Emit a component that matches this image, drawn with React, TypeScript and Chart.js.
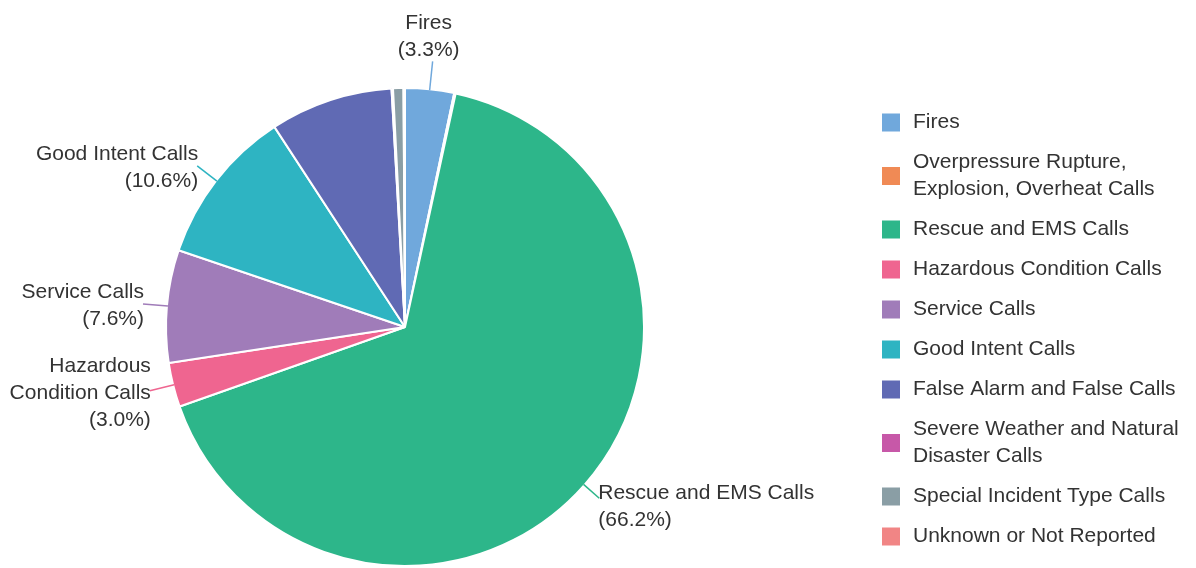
import React, { useEffect, useRef } from "react";
import { Chart, registerables } from "chart.js";

Chart.register(...registerables);

const categories = [
  "Fires",
  "Overpressure Rupture, Explosion, Overheat Calls",
  "Rescue and EMS Calls",
  "Hazardous Condition Calls",
  "Service Calls",
  "Good Intent Calls",
  "False Alarm and False Calls",
  "Severe Weather and Natural Disaster Calls",
  "Special Incident Type Calls",
  "Unknown or Not Reported",
];

const values = [3.3, 0.1, 66.2, 3.0, 7.6, 10.6, 8.3, 0.1, 0.7, 0.1];

const colors = [
  "#70A8DC",
  "#F08A55",
  "#2DB68A",
  "#EF6590",
  "#A07CB9",
  "#2EB4C2",
  "#606AB4",
  "#C758A8",
  "#8A9EA5",
  "#F18585",
];

// Legend text lines (wrapped as in the reference)
const legendLines = [
  ["Fires"],
  ["Overpressure Rupture,", "Explosion, Overheat Calls"],
  ["Rescue and EMS Calls"],
  ["Hazardous Condition Calls"],
  ["Service Calls"],
  ["Good Intent Calls"],
  ["False Alarm and False Calls"],
  ["Severe Weather and Natural", "Disaster Calls"],
  ["Special Incident Type Calls"],
  ["Unknown or Not Reported"],
];

// Outer slice labels (null = no label)
const sliceLabelLines: (string[] | null)[] = [
  ["Fires"],
  null,
  ["Rescue and EMS Calls"],
  ["Hazardous", "Condition Calls"],
  ["Service Calls"],
  ["Good Intent Calls"],
  null,
  null,
  null,
  null,
];

const FONT = '21px "Liberation Sans", Arial, sans-serif';
const TEXT_COLOR = "#333333";
const LINE_H = 27;

const outerLabels = {
  id: "outerLabels",
  afterDatasetsDraw(chart: any) {
    const ctx = chart.ctx;
    const meta = chart.getDatasetMeta(0);
    const total = values.reduce((a, b) => a + b, 0);
    ctx.save();
    ctx.font = FONT;
    ctx.textBaseline = "middle";
    meta.data.forEach((arc: any, i: number) => {
      const lines = sliceLabelLines[i];
      if (!lines) return;
      const { x, y, startAngle, endAngle, outerRadius } = arc.getProps(
        ["x", "y", "startAngle", "endAngle", "outerRadius"],
        true
      );
      const mid = (startAngle + endAngle) / 2;
      const c = Math.cos(mid);
      const s = Math.sin(mid);
      const isTop = Math.abs(c) < 0.3 && s < 0;
      const left = c > 0;
      const len = isTop ? 28 : left ? 20 : 24;
      const x1 = x + c * (outerRadius - 1);
      const y1 = y + s * (outerRadius - 1);
      const x2 = x + c * (outerRadius + len);
      const y2 = y + s * (outerRadius + len);
      ctx.strokeStyle = colors[i];
      ctx.lineWidth = 1.5;
      ctx.beginPath();
      ctx.moveTo(x1, y1);
      ctx.lineTo(x2, y2);
      ctx.stroke();

      const pct = "(" + ((values[i] / total) * 100).toFixed(1) + "%)";
      const all = [...lines, pct];
      ctx.fillStyle = TEXT_COLOR;
      if (isTop) {
        ctx.textAlign = "center";
        const bottom = y2 - 11;
        all.forEach((t, k) => {
          ctx.fillText(t, x2 - 4, bottom - (all.length - 1 - k) * LINE_H);
        });
      } else {
        ctx.textAlign = left ? "left" : "right";
        const tx = left ? x2 - 1 : x2 + 1;
        const top = y2 + (left ? 8 : 2) - ((all.length - 1) * LINE_H) / 2;
        all.forEach((t, k) => {
          ctx.fillText(t, tx, top + k * LINE_H);
        });
      }
    });
    ctx.restore();
  },
};

const legendPlugin = {
  id: "sideLegend",
  afterDraw(chart: any) {
    const ctx = chart.ctx;
    ctx.save();
    ctx.font = FONT;
    ctx.textBaseline = "middle";
    ctx.textAlign = "left";
    const boxX = 882;
    const textX = 913;
    const box = 18;
    let yTop = 102.5;
    legendLines.forEach((lines, i) => {
      const h = 40 + (lines.length - 1) * LINE_H;
      const cy = yTop + h / 2;
      ctx.fillStyle = colors[i];
      ctx.fillRect(boxX, cy - box / 2, box, box);
      ctx.fillStyle = TEXT_COLOR;
      const first = cy - ((lines.length - 1) * LINE_H) / 2;
      lines.forEach((t, k) => ctx.fillText(t, textX, first + k * LINE_H));
      yTop += h;
    });
    ctx.restore();
  },
};

export default function App() {
  const ref = useRef<HTMLCanvasElement>(null);
  useEffect(() => {
    if (!ref.current) return;
    const chart = new Chart(ref.current, {
      type: "pie",
      data: {
        labels: categories,
        datasets: [
          {
            data: values,
            backgroundColor: colors,
            borderColor: "#ffffff",
            borderWidth: 2,
          },
        ],
      },
      options: {
        animation: false,
        responsive: true,
        maintainAspectRatio: false,
        layout: { padding: { left: 165, right: 551, top: 86, bottom: 0 } },
        plugins: {
          legend: { display: false },
          tooltip: { enabled: false },
        },
      },
      plugins: [outerLabels, legendPlugin],
    });
    return () => chart.destroy();
  }, []);
  return (
    <div
      style={{
        position: "absolute",
        left: 0,
        top: 0,
        width: 1196,
        height: 568,
        background: "#ffffff",
      }}
    >
      <canvas ref={ref} />
    </div>
  );
}
